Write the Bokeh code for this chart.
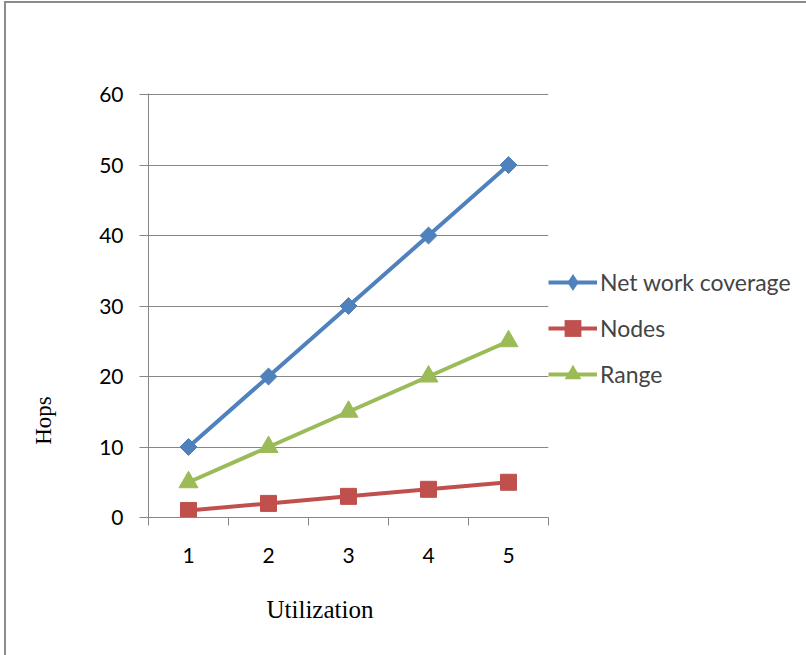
import math
from bokeh.plotting import figure
from bokeh.models import (Range1d, FixedTicker, Legend, LegendItem, Title)
from bokeh.embed import file_html
from bokeh.resources import INLINE

# ---- data ----
utilization = [1, 2, 3, 4, 5]
network_coverage = [10, 20, 30, 40, 50]
nodes = [1, 2, 3, 4, 5]
range_vals = [5, 10, 15, 20, 25]
y_ticks = [0, 10, 20, 30, 40, 50, 60]
series_names = ["Net work coverage", "Nodes", "Range"]
x_title = "Utilization"
y_title = "Hops"

BLUE = "#4F81BD"
RED = "#C0504D"
GREEN = "#9BBB59"
GRAY = "#868686"
TICK_FONT = "Lato"
TITLE_FONT = "Liberation Serif"

p = figure(frame_width=400, frame_height=424,
           min_border_left=142, min_border_top=90,
           min_border_right=258, min_border_bottom=138,
           x_range=Range1d(0.5, 5.5), y_range=Range1d(0, 60.15),
           output_backend="svg", toolbar_location=None)
p.styles = {"border-left": "2px solid #8c8c8c", "border-top": "2px solid #8c8c8c",
            "margin-left": "4px", "margin-top": "1px"}
p.outline_line_color = None
p.background_fill_color = "white"
p.border_fill_color = "white"

# axes
p.yaxis.ticker = FixedTicker(ticks=y_ticks)
p.yaxis.axis_line_color = GRAY
p.yaxis.major_tick_line_color = GRAY
p.yaxis.major_tick_out = 9
p.yaxis.major_tick_in = 0
p.yaxis.minor_tick_line_color = None
p.yaxis.major_label_standoff = 16
p.yaxis.major_label_text_font = TICK_FONT
p.yaxis.major_label_text_font_size = "21px"
p.yaxis.major_label_text_color = "black"
# y title: padded with no-break spaces so the word sits low on the axis, as in the original
p.yaxis.axis_label = y_title + "\u00a0" * 40
p.yaxis.axis_label_standoff = 40
p.yaxis.axis_label_text_font = TITLE_FONT
p.yaxis.axis_label_text_font_size = "23px"
p.yaxis.axis_label_text_font_style = "normal"
p.yaxis.axis_label_text_color = "black"

p.xaxis.ticker = FixedTicker(ticks=utilization,
                             minor_ticks=[u - 0.5 for u in utilization] + [utilization[-1] + 0.5])
p.xaxis.axis_line_color = GRAY
p.xaxis.major_tick_line_color = None
p.xaxis.major_tick_out = 0
p.xaxis.major_tick_in = 0
p.xaxis.minor_tick_line_color = GRAY
p.xaxis.minor_tick_out = 8
p.xaxis.minor_tick_in = 0
p.xaxis.major_label_standoff = 22
p.xaxis.major_label_text_font = TICK_FONT
p.xaxis.major_label_text_font_size = "21px"
p.xaxis.major_label_text_color = "black"

p.xgrid.grid_line_color = None
p.ygrid.ticker = FixedTicker(ticks=y_ticks)
p.ygrid.grid_line_color = GRAY
p.ygrid.grid_line_width = 1

# series
l1 = p.line(utilization, network_coverage, line_width=4, color=BLUE)
s1 = p.scatter(utilization, network_coverage, marker="square", angle=math.pi / 4,
               size=12, color=BLUE)
l2 = p.line(utilization, nodes, line_width=4, color=RED)
s2 = p.scatter(utilization, nodes, marker="square", size=16, color=RED)
l3 = p.line(utilization, range_vals, line_width=4, color=GREEN)
s3 = p.scatter(utilization, range_vals, marker="triangle", size=19, color=GREEN)

# legend-only marker renderers (zero size in the plot; legend sizes its own glyphs)
d1 = p.scatter(utilization, network_coverage, marker="diamond", size=0,
               fill_color=BLUE, line_color=None)
d2 = p.scatter(utilization, nodes, marker="square", size=0,
               fill_color=RED, line_color=None)
d3 = p.scatter(utilization, range_vals, marker="triangle", size=0,
               fill_color=GREEN, line_color=None)

legend = Legend(items=[LegendItem(label=series_names[0], renderers=[l1, d1]),
                       LegendItem(label=series_names[1], renderers=[l2, d2]),
                       LegendItem(label=series_names[2], renderers=[l3, d3])],
                location=(0, 122), glyph_width=49, glyph_height=42, spacing=4,
                padding=0, margin=0, label_standoff=3,
                border_line_color=None, background_fill_alpha=0,
                label_text_font=TICK_FONT, label_text_font_size="23px",
                label_height=42)
p.add_layout(legend, "right")

# x title
p.add_layout(Title(text=x_title, align="left", offset=118, standoff=56,
                   text_font=TITLE_FONT, text_font_size="25px",
                   text_font_style="normal", text_color="black"), "below")

open("out.html", "w").write(file_html(p, INLINE))
